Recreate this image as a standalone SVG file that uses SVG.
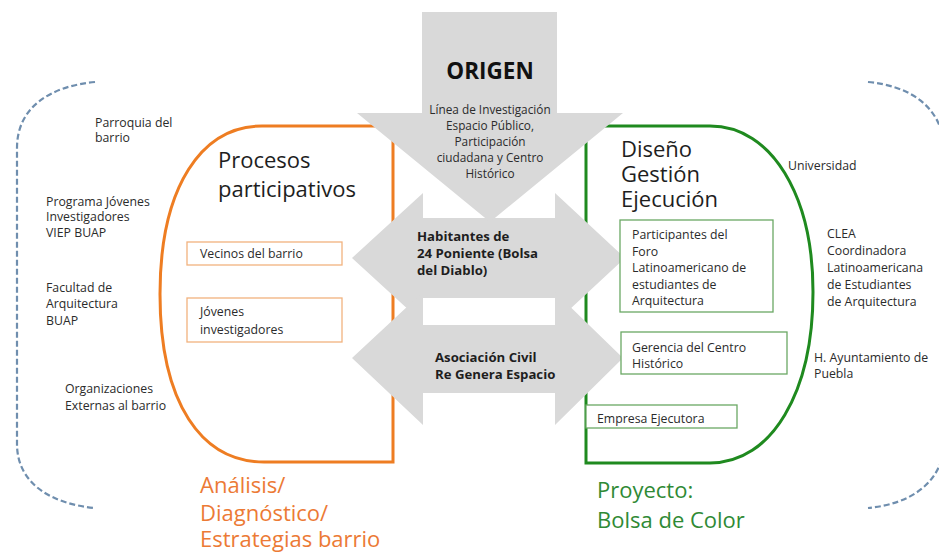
<svg xmlns="http://www.w3.org/2000/svg" width="939" height="553" viewBox="0 0 939 553">
<style>
.t{font-family:"Open Sans","Noto Sans","Liberation Sans",sans-serif;fill:#2b2b2b;font-size:12.3px}
.b{font-weight:bold;font-size:13.2px;fill:#1e1e1e}
.m{font-size:11.8px}
.h{font-size:22px;fill:#1e1e1e}
.or{fill:#ec7a35}
.gr{fill:#2f8a35}
.arrow{fill:#d9d9d9}
.ob{fill:#fff;stroke:#f2b27e;stroke-width:1.3}
.gb{fill:#fff;stroke:#6aa864;stroke-width:1.3}
.dash{fill:none;stroke:#6f8eae;stroke-width:2.2;stroke-dasharray:6 3}
</style>
<rect width="939" height="553" fill="#fff"/>
<g id="brackets">
<path class="dash" d="M95 82 C52 86 17 106 17 148 L17 444 C17 484 52 504 95 508"/>
<path class="dash" d="M868 82 C910 86 941 106 945 148 L945 444 C941 484 910 504 868 508"/>
</g>
<g id="procesos">
<path d="M262 126 L393 126 L393 462 L264 462 C202 462 160 404 160 294 C160 186 202 126 262 126 Z" fill="none" stroke="#ee7d22" stroke-width="3"/>
<text class="t h" x="218" y="168">Procesos</text>
<text class="t h" x="218" y="197">participativos</text>
</g>
<g id="diseno">
<path d="M586 126 L710 126 C772 126 813 196 813 292 C813 392 772 463 710 463 L586 463 Z" fill="none" stroke="#1f8a1f" stroke-width="3"/>
<text class="t h" x="621" y="157">Diseño</text>
<text class="t h" x="621" y="182">Gestión</text>
<text class="t h" x="621" y="207">Ejecución</text>
</g>
<g id="arrow-habitantes">
<polygon class="arrow" points="352,258 423,193 423,218 555,218 555,193 625,258 555,323 555,298 423,298 423,323"/>
<text class="t b" x="417" y="241">Habitantes de</text>
<text class="t b" x="417" y="258">24 Poniente (Bolsa</text>
<text class="t b" x="417" y="275">del Diablo)</text>
</g>
<g id="arrow-asociacion">
<polygon class="arrow" points="352,358 423,292 423,325 555,325 555,292 623,358 555,425 555,393 423,393 423,425"/>
<text class="t b" x="435" y="362">Asociación Civil</text>
<text class="t b" x="435" y="379">Re Genera Espacio</text>
</g>
<g id="origen">
<polygon class="arrow" points="422,12 557,12 557,113 623,113 490,222 357,113 422,113"/>
<text class="t b" x="490" y="79" text-anchor="middle" style="font-size:22.5px;fill:#111">ORIGEN</text>
<text class="t m" x="490" y="114" text-anchor="middle">Línea de Investigación</text>
<text class="t m" x="490" y="130" text-anchor="middle">Espacio Público,</text>
<text class="t m" x="490" y="146" text-anchor="middle">Participación</text>
<text class="t m" x="490" y="162" text-anchor="middle">ciudadana y Centro</text>
<text class="t m" x="490" y="178" text-anchor="middle">Histórico</text>
</g>
<g id="vecinos">
<rect class="ob" x="187" y="242" width="155" height="23"/>
<text class="t" x="200" y="258">Vecinos del barrio</text>
</g>
<g id="jovenes">
<rect class="ob" x="187" y="298" width="155" height="44"/>
<text class="t" x="200" y="316">Jóvenes</text>
<text class="t" x="200" y="334">investigadores</text>
</g>
<g id="participantes">
<rect class="gb" x="620" y="220" width="153" height="92"/>
<text class="t" x="632" y="239">Participantes del</text>
<text class="t" x="632" y="256">Foro</text>
<text class="t" x="632" y="272">Latinoamericano de</text>
<text class="t" x="632" y="289">estudiantes de</text>
<text class="t" x="632" y="305">Arquitectura</text>
</g>
<g id="gerencia">
<rect class="gb" x="621" y="332" width="166" height="42"/>
<text class="t" x="632" y="352">Gerencia del Centro</text>
<text class="t" x="632" y="368">Histórico</text>
</g>
<g id="empresa">
<rect class="gb" x="586" y="405" width="151" height="23"/>
<text class="t" x="597" y="423">Empresa Ejecutora</text>
</g>
<g id="actores-izq">
<text class="t" x="95" y="127">Parroquia del</text>
<text class="t" x="95" y="142">barrio</text>
<text class="t" x="46" y="206">Programa Jóvenes</text>
<text class="t" x="46" y="221">Investigadores</text>
<text class="t" x="46" y="237">VIEP BUAP</text>
<text class="t" x="46" y="292">Facultad de</text>
<text class="t" x="46" y="308">Arquitectura</text>
<text class="t" x="46" y="325">BUAP</text>
<text class="t" x="65" y="393">Organizaciones</text>
<text class="t" x="65" y="410">Externas al barrio</text>
</g>
<g id="actores-der">
<text class="t" x="788" y="170">Universidad</text>
<text class="t" x="827" y="238">CLEA</text>
<text class="t" x="827" y="255">Coordinadora</text>
<text class="t" x="827" y="272">Latinoamericana</text>
<text class="t" x="827" y="289">de Estudiantes</text>
<text class="t" x="827" y="306">de Arquitectura</text>
<text class="t" x="814" y="362">H. Ayuntamiento de</text>
<text class="t" x="814" y="378">Puebla</text>
</g>
<g id="analisis">
<text class="t h or" x="200" y="493">Análisis/</text>
<text class="t h or" x="200" y="521">Diagnóstico/</text>
<text class="t h or" x="200" y="547">Estrategias barrio</text>
</g>
<g id="proyecto">
<text class="t h gr" x="597" y="498">Proyecto:</text>
<text class="t h gr" x="597" y="528">Bolsa de Color</text>
</g>
</svg>
